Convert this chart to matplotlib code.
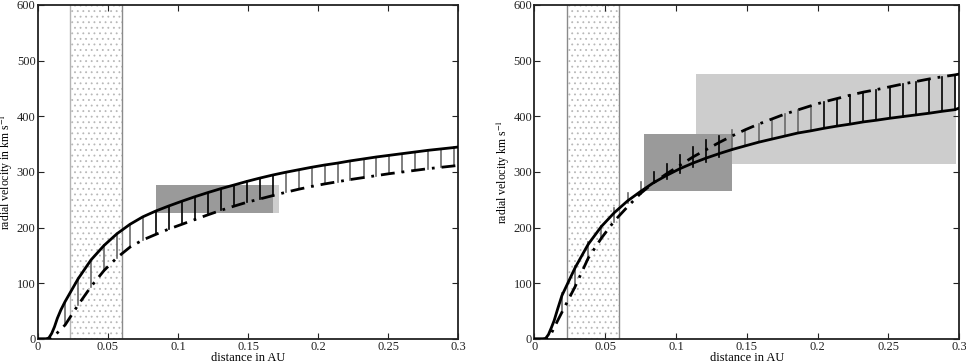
import numpy as np
import matplotlib
matplotlib.use("Agg")
import matplotlib.pyplot as plt
from matplotlib.patches import Rectangle

plt.rcParams['font.family'] = ['Liberation Serif', 'DejaVu Serif']
plt.rcParams['mathtext.fontset'] = 'stix'
plt.rcParams['hatch.linewidth'] = 0.6

# --- data ---
# x positions where the connecting vertical segments are drawn
seg_x = [0.0195, 0.0288, 0.038, 0.0473, 0.0565, 0.0658, 0.075, 0.0843, 0.0935, 0.1028,
         0.112, 0.1213, 0.1305, 0.1398, 0.149, 0.1583, 0.1675, 0.1768, 0.186, 0.1953,
         0.2045, 0.2138, 0.223, 0.2323, 0.2415, 0.2508, 0.26, 0.2693, 0.2785, 0.2878, 0.297]
head_x = [0.0, 0.006, 0.008, 0.010, 0.012, 0.014, 0.0165]
tail_x = [0.3]

# left panel
left_solid = [0, 0, 2, 10, 22, 37, 52,
              67, 108, 142, 168, 189, 206, 219.5, 230, 239, 247.5,
              255.5, 263, 270, 276.5, 283, 289, 294.5, 299.5, 304, 308.5,
              312.5, 316, 320, 323.5, 327, 330, 333, 336, 339, 341.5, 344,
              345]
left_dash = [0, 0, 0, 2, 6, 11, 18,
             25, 61, 94, 123, 146, 165, 178, 188, 197.5, 206,
             214.5, 223, 231, 238.5, 245.5, 251.5, 257.5, 263.5, 269, 274,
             278.5, 282.5, 286.5, 290, 293.5, 297, 300, 303, 306, 308.5, 311,
             312]

# right panel
right_solid = [0, 0, 1, 8, 20, 33, 54,
               78, 128, 170, 202, 227, 248, 265, 281, 294, 306,
               316, 325, 333, 340.5, 347, 353.5, 359, 364.5, 370, 374,
               378.5, 382.5, 386, 390, 393, 396.5, 399.5, 402.5, 405.5, 409, 412,
               415]
right_dash = [0, 0, 0, 2, 10, 20, 33,
              48, 94, 145, 181, 212, 237.5, 261.5, 281, 297, 312,
              327, 340, 353, 365, 376, 386, 395, 404, 411.5, 419,
              426, 432, 438, 443.5, 448, 453, 458, 462.5, 467, 471, 474.5,
              476]
# right panel segments are longer than the gap near the crossing
right_seg_lo = [50, 91, 142, 181, 211, 243.6, 261, 279.5, 288, 297.5,
                309.5, 318, 327, 339, 347, 353.5, 359, 364.5, 370, 374,
                378.5, 382.5, 386, 390, 393, 396.5, 399.5, 402.5, 405.5, 409, 412]
right_seg_hi = [82, 131, 175, 203, 236, 261.5, 282, 300, 315, 330,
                344, 357, 364.5, 376, 376, 386, 395, 404, 411.5, 419,
                426, 432, 438, 443.5, 448, 453, 458, 462.5, 467, 471, 474.5]

# observation boxes: (x0, x1, v0, v1)
left_box_light = (0.0847, 0.1717, 226, 276)
left_box_dark = (0.0847, 0.168, 226, 276)
right_box_light = (0.1139, 0.2975, 315, 476)
right_box_dark = (0.0774, 0.1398, 266, 368)

band = (0.023, 0.060)

x_ticks = [0, 0.05, 0.1, 0.15, 0.2, 0.25, 0.3]
x_ticklabels = ['0', '0.05', '0.1', '0.15', '0.2', '0.25', '0.3']
y_ticks = [0, 100, 200, 300, 400, 500, 600]


def add_box(ax, box, color):
    x0, x1, v0, v1 = box
    ax.add_patch(Rectangle((x0, v0), x1 - x0, v1 - v0, facecolor=color,
                           edgecolor='none', zorder=1))


def draw_panel(ax, solid, dash, lo, hi, boxes, black_ranges, ylabel, band_left_color):
    cx = head_x + seg_x + tail_x

    # dotted band
    ax.axvspan(band[0], band[1], facecolor='none', edgecolor='#b8b8b8',
               hatch='...', linewidth=0, zorder=0)
    ax.axvline(band[0], color=band_left_color, lw=1.0, zorder=0.5)
    ax.axvline(band[1], color='#8a8a8a', lw=1.0, zorder=0.5)

    for box, col in boxes:
        add_box(ax, box, col)

    for x, a, b in zip(seg_x, lo, hi):
        col = '#6a6a6a'
        for r0, r1 in black_ranges:
            if r0 <= x <= r1:
                col = 'black'
        ax.plot([x, x], [a, b], color=col, lw=1.2, zorder=2)

    ax.plot(cx, solid, color='black', lw=2.0, zorder=3)
    ax.plot(cx, dash, color='black', lw=2.0, ls=(0, (5, 2.5, 1, 2.5)), zorder=3)

    ax.set_xlim(0, 0.3)
    ax.set_ylim(0, 600)
    ax.set_xticks(x_ticks)
    ax.set_xticklabels(x_ticklabels)
    ax.set_yticks(y_ticks)
    ax.tick_params(direction='in', top=True, right=True, length=4, width=0.8,
                   labelsize=9, pad=1.5, colors='#222222')
    for s in ax.spines.values():
        s.set_linewidth(1.3)
        s.set_color('#222222')
    ax.set_xlabel('distance in AU', fontsize=9, labelpad=-1)
    ax.set_ylabel(ylabel, fontsize=8.5, labelpad=1)


fig = plt.figure(figsize=(9.66, 3.64), dpi=100)
ax1 = fig.add_axes([0.039, 0.0687, 0.4356, 0.9176])
ax2 = fig.add_axes([0.5531, 0.0687, 0.44, 0.9176])

left_lo = left_dash[len(head_x):len(head_x) + len(seg_x)]
left_hi = left_solid[len(head_x):len(head_x) + len(seg_x)]

draw_panel(ax1, left_solid, left_dash, left_lo, left_hi,
           [(left_box_light, '#cdcdcd'), (left_box_dark, '#9a9a9a')],
           [(0.084, 0.168)],
           r'radial velocity in km s$^{-1}$', '#b5b5b5')

draw_panel(ax2, right_solid, right_dash, right_seg_lo, right_seg_hi,
           [(right_box_light, '#cdcdcd'), (right_box_dark, '#9a9a9a')],
           [(0.077, 0.135), (0.2, 0.3)],
           r'radial velocity km s$^{-1}$', '#8a8a8a')

# left y label sits very close to the figure edge in the original
ax1.yaxis.set_label_coords(-0.053, 0.5)

fig.savefig('out.png', dpi=100)
